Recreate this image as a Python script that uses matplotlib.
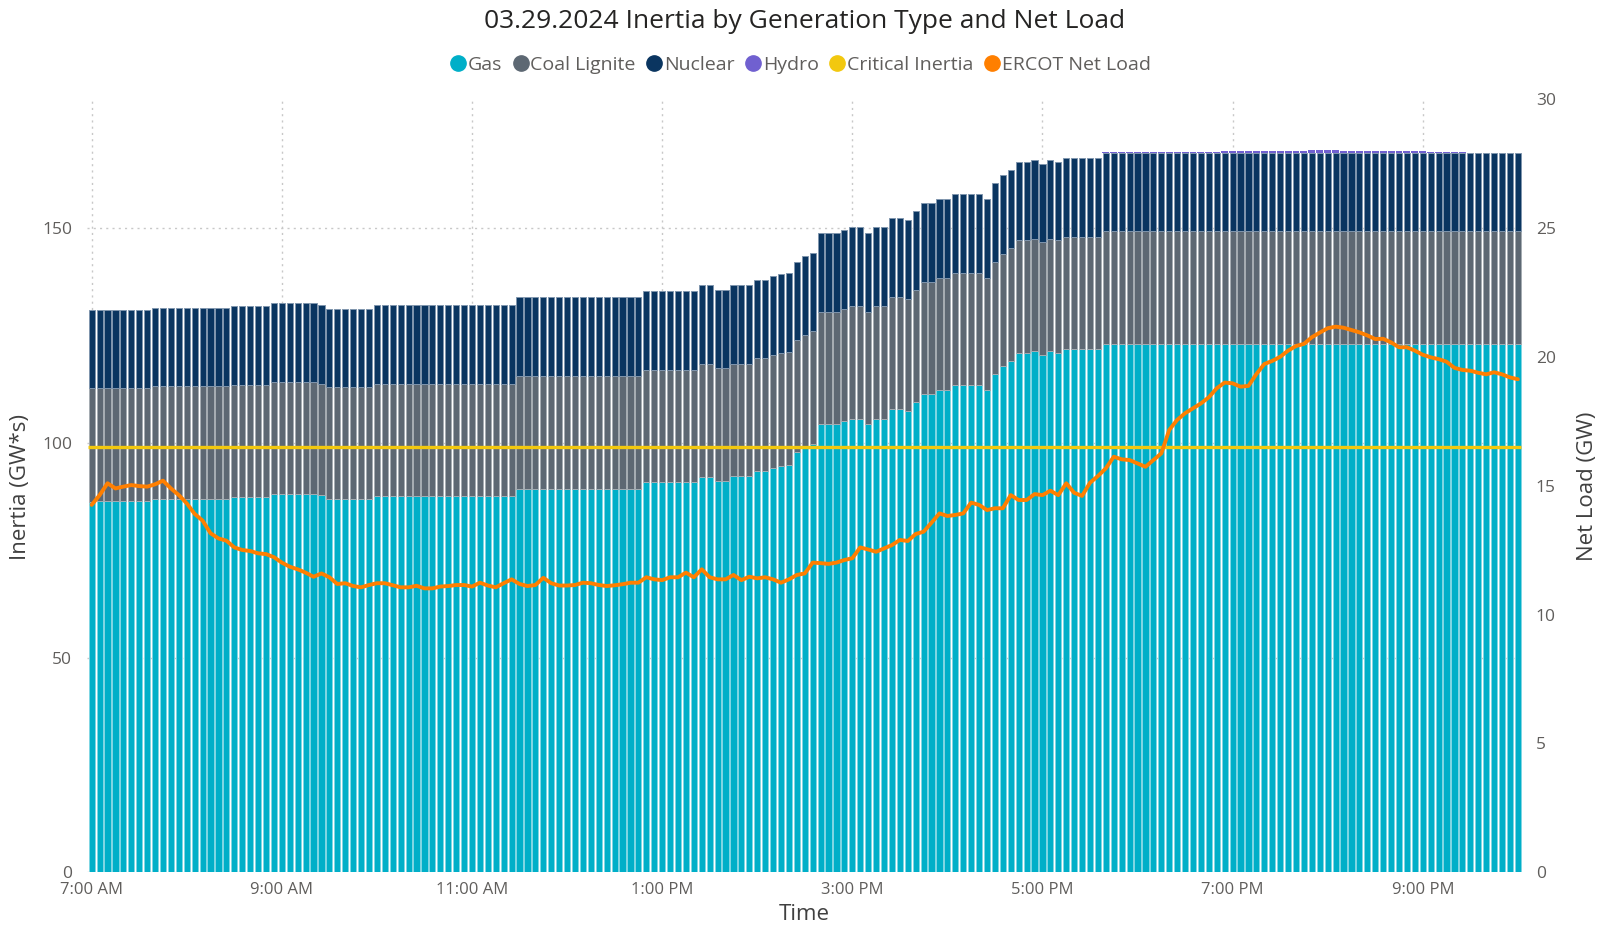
import matplotlib
matplotlib.use("Agg")
import matplotlib.pyplot as plt
from matplotlib.lines import Line2D
import numpy as np
import pandas as pd

# ---------------- data ----------------
times = pd.date_range("2024-03-29 07:00", "2024-03-29 22:00", freq="5min")

gas = [
    86.2, 86.4, 86.4, 86.4, 86.4, 86.4, 86.4, 86.4,                      # 0-7
    86.9, 86.9, 86.9, 86.9, 86.9, 86.9, 86.9, 86.9, 86.9, 86.9,          # 8-17
    87.3, 87.3, 87.3, 87.3, 87.3,                                        # 18-22
    88.1, 88.1, 88.1, 88.1, 88.1, 88.1,                                  # 23-28
    87.8,                                                                # 29
    86.9, 86.9, 86.9, 86.9, 86.9, 86.9,                                  # 30-35
    87.6, 87.6, 87.6, 87.6, 87.6, 87.6, 87.6, 87.6, 87.6,                # 36-44
    87.6, 87.6, 87.6, 87.6, 87.6, 87.6, 87.6, 87.6, 87.6,                # 45-53
    89.3, 89.3, 89.3, 89.3, 89.3, 89.3, 89.3, 89.3,                      # 54-61
    89.3, 89.3, 89.3, 89.3, 89.3, 89.3, 89.3, 89.3,                      # 62-69
    91.0, 91.0, 91.0, 91.0, 91.0, 91.0, 91.0,                            # 70-76
    92.1, 92.1, 91.1, 91.1, 92.2, 92.2, 92.2, 93.4, 93.4, 94.2,          # 77-86
    94.7, 94.9, 98.0, 98.9, 99.8,                                        # 87-91
    104.3, 104.3, 104.3, 105.0, 105.6, 105.6, 104.3, 105.6, 105.6,       # 92-100
    107.8, 107.8, 107.4, 109.5, 111.3, 111.3, 112.3, 112.3,              # 101-108
    113.4, 113.4, 113.4, 113.4, 112.3, 116.1, 117.9, 119.0,              # 109-116
    121.0, 121.0, 121.4, 120.4, 121.4, 121.0,                            # 117-122
    121.8, 121.8, 121.8, 121.8, 121.8,                                   # 123-127
    123.1, 123.1, 123.1, 123.1, 123.1, 123.1, 123.1, 123.1, 123.1, 123.1,  # 128-137
    123.1, 123.1, 123.1, 123.1, 123.1, 123.1, 123.1, 123.1, 123.1, 123.1,  # 138-147
    123.1, 123.1, 123.1, 123.1, 123.1, 123.1, 123.1, 123.1, 123.1, 123.1,  # 148-157
    123.1, 123.1, 123.1, 123.1, 123.1, 123.1, 123.1, 123.1, 123.1, 123.1,  # 158-167
    123.1, 123.1, 123.1, 123.1, 123.1, 123.1, 123.1, 123.1, 123.1, 123.1,  # 168-177
    123.1, 123.1, 123.1,                                                   # 178-180
]

coal_lignite = [
    26.5,                                                                  # 0
    26.3, 26.3, 26.3, 26.3, 26.3, 26.3, 26.3, 26.3, 26.3, 26.3, 26.3,      # 1-11
    26.3, 26.3, 26.3, 26.3, 26.3, 26.3, 26.3, 26.3, 26.3, 26.3, 26.3,      # 12-22
    26.1, 26.1, 26.1, 26.1, 26.1, 26.1,                                    # 23-28
    26.0,                                                                  # 29
    26.1, 26.1, 26.1, 26.1, 26.1, 26.1,                                    # 30-35
    26.2, 26.2, 26.2, 26.2, 26.2, 26.2, 26.2, 26.2, 26.2,                  # 36-44
    26.2, 26.2, 26.2, 26.2, 26.2, 26.2, 26.2, 26.2, 26.2,                  # 45-53
    26.3, 26.3, 26.3, 26.3, 26.3, 26.3, 26.3, 26.3,                        # 54-61
    26.3, 26.3, 26.3, 26.3, 26.3, 26.3, 26.3, 26.3,                        # 62-69
    26.1, 26.1, 26.1, 26.1, 26.1, 26.1, 26.1,                              # 70-76
    26.2, 26.2, 26.3, 26.3, 26.3, 26.3, 26.3, 26.3, 26.3, 26.3,            # 77-86
    26.3, 26.3, 26.0, 26.2, 26.2,                                          # 87-91
    26.2, 26.2, 26.2, 26.3, 26.3, 26.3, 26.2, 26.3, 26.3,                  # 92-100
    26.2, 26.2, 26.2, 26.2, 26.2, 26.2, 26.2, 26.2,                        # 101-108
    26.2, 26.2, 26.2, 26.2, 26.2, 26.1, 26.2, 26.3,                        # 109-116
    26.2, 26.2, 26.1, 26.3, 26.2, 26.2,                                    # 117-122
    26.2, 26.2, 26.2, 26.2, 26.2,                                          # 123-127
    26.2, 26.2, 26.2, 26.2, 26.2, 26.2, 26.2, 26.2, 26.2, 26.2,            # 128-137
    26.2, 26.2, 26.2, 26.2, 26.2, 26.2, 26.2, 26.2, 26.2, 26.2,            # 138-147
    26.2, 26.2, 26.2, 26.2, 26.2, 26.2, 26.2, 26.2, 26.2, 26.2,            # 148-157
    26.2, 26.2, 26.2, 26.2, 26.2, 26.2, 26.2, 26.2, 26.2, 26.2,            # 158-167
    26.2, 26.2, 26.2, 26.2, 26.2, 26.2, 26.2, 26.2, 26.2, 26.2,            # 168-177
    26.2, 26.2, 26.2,                                                      # 178-180
]

nuclear = [
    18.2,                                                                  # 0
    18.3, 18.3, 18.3, 18.3, 18.3, 18.3, 18.3, 18.3, 18.3, 18.3, 18.3,      # 1-11
    18.3, 18.3, 18.3, 18.3, 18.3, 18.3, 18.3, 18.3, 18.3, 18.3, 18.3,      # 12-22
    18.4, 18.4, 18.4, 18.4, 18.4, 18.4,                                    # 23-28
    18.3, 18.3, 18.3, 18.3, 18.3, 18.3, 18.3,                              # 29-35
    18.4, 18.4, 18.4, 18.4, 18.4, 18.4, 18.4, 18.4, 18.4,                  # 36-44
    18.4, 18.4, 18.4, 18.4, 18.4, 18.4, 18.4, 18.4, 18.4,                  # 45-53
    18.3, 18.3, 18.3, 18.3, 18.3, 18.3, 18.3, 18.3,                        # 54-61
    18.3, 18.3, 18.3, 18.3, 18.3, 18.3, 18.3, 18.3,                        # 62-69
    18.3, 18.3, 18.3, 18.3, 18.3, 18.3, 18.3,                              # 70-76
    18.4, 18.4, 18.3, 18.3, 18.3, 18.3, 18.3, 18.3, 18.3, 18.4,            # 77-86
    18.3, 18.3, 18.2, 18.4, 18.3,                                          # 87-91
    18.3, 18.3, 18.3, 18.4, 18.3, 18.3, 18.4, 18.3, 18.3,                  # 92-100
    18.4, 18.4, 18.3, 18.3, 18.3, 18.3, 18.3, 18.3,                        # 101-108
    18.4, 18.4, 18.4, 18.4, 18.3, 18.3, 18.3, 18.2,                        # 109-116
    18.3, 18.3, 18.4, 18.3, 18.3, 18.3,                                    # 117-122
    18.3, 18.3, 18.3, 18.3, 18.3,                                          # 123-127
    18.3, 18.3, 18.3, 18.3, 18.3, 18.3, 18.3, 18.3, 18.3, 18.3,            # 128-137
    18.3, 18.3, 18.3, 18.3, 18.3, 18.3, 18.3, 18.3, 18.3, 18.3,            # 138-147
    18.3, 18.3, 18.3, 18.3, 18.3, 18.3, 18.3, 18.3, 18.3, 18.3,            # 148-157
    18.3, 18.3, 18.3, 18.3, 18.3, 18.3, 18.3, 18.3, 18.3, 18.3,            # 158-167
    18.3, 18.3, 18.3, 18.3, 18.3, 18.3, 18.3, 18.3, 18.3, 18.3,            # 168-177
    18.3, 18.3, 18.3,                                                      # 178-180
]

hydro = [
    0, 0, 0, 0, 0, 0, 0, 0, 0, 0, 0, 0, 0, 0, 0, 0, 0, 0, 0, 0,            # 0-19
    0, 0, 0, 0, 0, 0, 0, 0, 0, 0, 0, 0, 0, 0, 0, 0, 0, 0, 0, 0,            # 20-39
    0, 0, 0, 0, 0, 0, 0, 0, 0, 0, 0, 0, 0, 0, 0, 0, 0, 0, 0, 0,            # 40-59
    0, 0, 0, 0, 0, 0, 0, 0, 0, 0, 0, 0, 0, 0, 0, 0, 0, 0, 0, 0,            # 60-79
    0, 0, 0, 0, 0, 0, 0, 0, 0, 0, 0, 0, 0, 0, 0, 0, 0, 0, 0, 0,            # 80-99
    0, 0, 0, 0, 0, 0, 0, 0, 0, 0, 0, 0, 0, 0, 0, 0, 0, 0, 0, 0,            # 100-119
    0, 0, 0, 0, 0, 0, 0, 0,                                                # 120-127
    0.15, 0.15, 0.15, 0.15, 0.15, 0.15, 0.15, 0.15,                        # 128-135
    0.15, 0.15, 0.15, 0.15, 0.15, 0.15, 0.15,                              # 136-142
    0.3, 0.3, 0.3, 0.3, 0.3, 0.3, 0.3, 0.3, 0.3, 0.3, 0.3,                 # 143-153
    0.55, 0.55, 0.55, 0.55,                                                # 154-157
    0.3, 0.3, 0.3, 0.3, 0.3, 0.3, 0.3, 0.3, 0.3, 0.3, 0.3,                 # 158-168
    0.15, 0.15, 0.15, 0.15, 0.15,                                          # 169-173
    0, 0, 0, 0, 0, 0, 0,                                                   # 174-180
]

critical_inertia = 99.0

ercot_net_load = [
    14.26, 14.64, 15.10, 14.90, 14.97, 15.03, 14.99, 14.97, 15.06, 15.20,   # 0-9
    14.90, 14.64, 14.32, 13.91, 13.65, 13.16, 12.96, 12.87, 12.61, 12.51,   # 10-19
    12.47, 12.38, 12.35, 12.23, 12.02, 11.86, 11.76, 11.63, 11.47, 11.60,   # 20-29
    11.45, 11.19, 11.22, 11.11, 11.06, 11.15, 11.22, 11.22, 11.14, 11.06,   # 30-39
    11.06, 11.12, 11.02, 11.02, 11.09, 11.11,                               # 40-45
    11.15, 11.15, 11.09, 11.24, 11.13, 11.06, 11.22, 11.37, 11.19, 11.11,   # 46-55
    11.15, 11.43, 11.22, 11.13, 11.13, 11.15, 11.24, 11.22, 11.15, 11.11,   # 56-65
    11.14, 11.18, 11.24, 11.24, 11.45, 11.37, 11.34, 11.45, 11.45, 11.63,   # 66-75
    11.45, 11.76, 11.45, 11.37, 11.37, 11.54, 11.34, 11.47, 11.41, 11.45,   # 76-85
    11.37, 11.24, 11.37, 11.54, 11.60,                                      # 86-90
    12.02, 12.00, 11.97, 12.02, 12.12, 12.19, 12.61, 12.53, 12.44, 12.57,   # 91-100
    12.70, 12.90, 12.86, 13.13, 13.22, 13.57, 13.93, 13.83, 13.87, 13.93,   # 101-110
    14.35, 14.26, 14.06, 14.13, 14.13, 14.64, 14.45, 14.45, 14.68, 14.64,   # 111-120
    14.81, 14.64, 15.10, 14.73, 14.61, 15.12, 15.38, 15.68, 16.13, 16.03,   # 121-130
    16.00, 15.87, 15.74, 16.00, 16.26,                                      # 131-135
    17.17, 17.56, 17.82, 18.01, 18.20, 18.44, 18.79, 19.01, 18.98, 18.85,   # 136-145
    18.88, 19.34, 19.73, 19.85, 20.01, 20.25, 20.43, 20.51, 20.77, 20.95,   # 146-155
    21.12, 21.18, 21.14, 21.05, 20.96, 20.84, 20.70, 20.71, 20.57, 20.38,   # 156-165
    20.38, 20.25, 20.09, 19.99, 19.92, 19.82, 19.58, 19.50, 19.47, 19.39,   # 166-175
    19.33, 19.41, 19.33, 19.21, 19.14,                                      # 176-180
]

x_tick_labels = ["7:00 AM", "9:00 AM", "11:00 AM", "1:00 PM",
                 "3:00 PM", "5:00 PM", "7:00 PM", "9:00 PM"]
left_ticks = [0, 50, 100, 150]
right_ticks = [0, 5, 10, 15, 20, 25, 30]

for name, arr in [("gas", gas), ("coal", coal_lignite), ("nuclear", nuclear),
                  ("hydro", hydro), ("net", ercot_net_load)]:
    assert len(arr) == len(times), (name, len(arr))

# ---------------- style ----------------
plt.rcParams["font.family"] = ["Open Sans", "DejaVu Sans"]

GAS_C, GAS_E = "#00AFC8", "#80D6E3"
COAL_C, COAL_E = "#5D6873", "#A5ACB2"
NUC_C, NUC_E = "#0A3560", "#7F95AD"
HYD_C = "#7060D0"
YEL_C = "#F2C80F"
ORG_C = "#FF7F00"
TICK_C = "#605E5C"
LEG_C = "#605E5C"
TITLE_C = "#252423"
GRID_C = "#C8C8C8"

W_PX, H_PX = 1609, 926
fig = plt.figure(figsize=(W_PX / 100, H_PX / 100), dpi=100)

x = np.arange(len(times))
xl, xr = -0.55, len(times) - 1 + 0.5
px_per = 7.923
ax_left_px = 91.7 + xl * px_per
ax_right_px = 91.7 + xr * px_per
ax_bot_px, ax_top_px = 872.2, 99.5
ax = fig.add_axes([ax_left_px / W_PX, 1 - ax_bot_px / H_PX,
                   (ax_right_px - ax_left_px) / W_PX,
                   (ax_bot_px - ax_top_px) / H_PX])

bw, elw = 0.78, 0.7
g = np.array(gas)
c = np.array(coal_lignite)
n = np.array(nuclear)
h = np.array(hydro)
ax.bar(x, g, width=bw, color=GAS_C, edgecolor=GAS_E, linewidth=elw, zorder=2)
ax.bar(x, c, bottom=g, width=bw, color=COAL_C, edgecolor=COAL_E, linewidth=elw, zorder=2)
ax.bar(x, n, bottom=g + c, width=bw, color=NUC_C, edgecolor=NUC_E, linewidth=elw, zorder=2)
ax.bar(x, h, bottom=g + c + n, width=bw + 0.1, color=HYD_C, linewidth=0, zorder=2)
ax.hlines(critical_inertia, x[0] - 0.45, x[-1] + 0.45, color=YEL_C, lw=2.4, zorder=3)

ax.set_xlim(xl, xr)
ax.set_ylim(0, 180)
labels_all = [t.strftime("%-I:%M %p") for t in times]
tick_pos = [labels_all.index(lbl) for lbl in x_tick_labels]
ax.set_xticks(tick_pos)
ax.set_xticklabels(x_tick_labels)
ax.set_yticks(left_ticks)
ax.tick_params(axis="x", length=0, pad=7, labelsize=12, labelcolor=TICK_C)
ax.tick_params(axis="y", length=0, pad=11, labelsize=12.5, labelcolor=TICK_C)
ax.grid(True, axis="both", color=GRID_C, linestyle=(0, (1.5, 3)), linewidth=1.0)
ax.set_axisbelow(True)
for s in ax.spines.values():
    s.set_visible(False)

ax2 = ax.twinx()
ax2.plot(x, ercot_net_load, color=ORG_C, lw=2.8, zorder=5,
         solid_joinstyle="round", solid_capstyle="round")
ax2.set_ylim(0, 30)
ax2.set_yticks(right_ticks)
ax2.tick_params(axis="y", length=0, pad=10, labelsize=12.5, labelcolor=TICK_C)
for s in ax2.spines.values():
    s.set_visible(False)

# titles
fig.text(804.5 / W_PX, 1 - 21 / H_PX, "03.29.2024 Inertia by Generation Type and Net Load",
         ha="center", va="center", fontsize=19, color=TITLE_C)
fig.text(21 / W_PX, 1 - 486.5 / H_PX, "Inertia (GW*s)", rotation=90,
         ha="center", va="center", fontsize=16, color="#404040")
fig.text(1587.5 / W_PX, 1 - 486.5 / H_PX, "Net Load (GW)", rotation=90,
         ha="center", va="center", fontsize=16, color="#404040")
fig.text(804.5 / W_PX, 1 - 915 / H_PX, "Time",
         ha="center", va="center", fontsize=16, color="#404040")

leg_names = ["Gas", "Coal Lignite", "Nuclear", "Hydro", "Critical Inertia", "ERCOT Net Load"]
leg_cols = [GAS_C, COAL_C, NUC_C, HYD_C, YEL_C, ORG_C]
handles = [Line2D([], [], marker="o", linestyle="", color=col, markersize=11)
           for col in leg_cols]
fig.legend(handles, leg_names, loc="center", bbox_to_anchor=(801 / W_PX, 1 - 64.6 / H_PX),
           ncol=6, frameon=False, handlelength=0.7, handletextpad=0.15,
           columnspacing=0.6, fontsize=14, labelcolor=LEG_C, borderpad=0)

fig.savefig("out.png", dpi=100)
